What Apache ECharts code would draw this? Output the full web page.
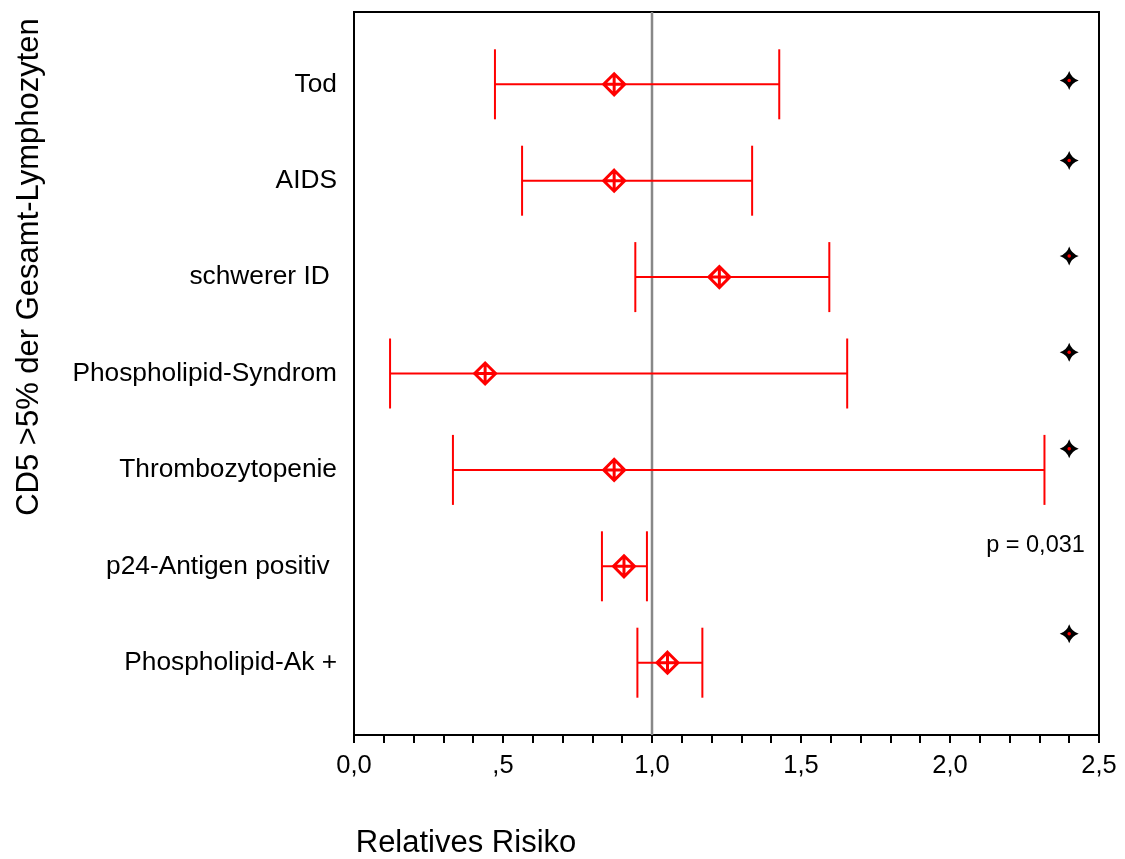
<!DOCTYPE html>
<html>
<head>
<meta charset="utf-8">
<script src="https://cdn.jsdelivr.net/npm/echarts@6/dist/echarts.min.js"></script>
<style>
html,body{margin:0;padding:0;background:#fff;}
#chart{width:1125px;height:859px;}
</style>
</head>
<body>
<div id="chart"></div>
<script>
// Categories from top to bottom
const categories = ['Tod','AIDS','schwerer ID ','Phospholipid-Syndrom','Thrombozytopenie','p24-Antigen positiv ','Phospholipid-Ak +'];
const relRisk = [0.873, 0.873, 1.226, 0.440, 0.873, 0.906, 1.052];
const lowerCI = [0.473, 0.564, 0.944, 0.121, 0.332, 0.832, 0.951];
const upperCI = [1.427, 1.336, 1.595, 1.655, 2.317, 0.983, 1.169];
const xTicks = [0, 0.5, 1.0, 1.5, 2.0, 2.5];
const referenceRR = 1.0;
// significance star markers (x, y in row units)
const starX = [2.40, 2.40, 2.40, 2.40, 2.40, 2.40];
const starY = [7.04, 6.21, 5.22, 4.22, 3.22, 1.30];
const pText = 'p = 0,031';
const pPos = [2.287, 2.22];

const n = categories.length;
const rowOf = i => n - i;

const font = 'Liberation Sans, Arial, Helvetica, sans-serif';
const chart = echarts.init(document.getElementById('chart'), null, {renderer:'canvas'});

const ciData = categories.map((c,i) => [lowerCI[i], upperCI[i], rowOf(i)]);
const pointData = categories.map((c,i) => [relRisk[i], rowOf(i)]);
const starData = starX.map((x,i) => [x, starY[i]]);

const diamond = 'path://M0,-10L10,0L0,10L-10,0Z M-10,0L10,0 M0,-10L0,10';
const star = 'path://M0,-10Q2.4,-2.4 10,0Q2.4,2.4 0,10Q-2.4,2.4 -10,0Q-2.4,-2.4 0,-10Z';

const fmt = v => {
  let s = v.toFixed(1).replace('.', ',');
  if (v > 0 && v < 1) s = s.substring(1);
  return s;
};

chart.setOption({
  animation:false,
  backgroundColor:'#fff',
  grid:{left:354, top:12, right:26, bottom:124, show:true, borderColor:'#000', borderWidth:2},
  xAxis:{
    type:'value', min:xTicks[0], max:xTicks[xTicks.length-1], interval:0.5,
    axisLine:{show:true, lineStyle:{color:'#000', width:2}},
    axisTick:{show:true, length:8, lineStyle:{color:'#000', width:2}},
    minorTick:{show:true, splitNumber:5, length:8, lineStyle:{color:'#000', width:2}},
    splitLine:{show:false},
    axisLabel:{formatter:fmt, fontSize:25.5, color:'#000', fontFamily:font, margin:18}
  },
  yAxis:{
    type:'value', min:0.25, max:n+0.75,
    axisLine:{show:true, lineStyle:{color:'#000', width:2}},
    axisTick:{show:false},
    splitLine:{show:false},
    axisLabel:{
      customValues:categories.map((c,i)=>rowOf(i)),
      formatter:v => categories[n - Math.round(v)],
      fontSize:26.3, color:'#000', fontFamily:font, margin:17
    }
  },
  graphic:[
    {type:'text', x:29, y:267, rotation:Math.PI/2,
     style:{text:'CD5 >5% der Gesamt-Lymphozyten', fontSize:31, fontFamily:font, fill:'#000', align:'center', verticalAlign:'middle'}},
    {type:'text', x:466, y:843,
     style:{text:'Relatives Risiko', fontSize:31, fontFamily:font, fill:'#000', align:'center', verticalAlign:'middle'}}
  ],
  series:[
    {
      type:'line', data:[[referenceRR,0.25],[referenceRR,n+0.75]], symbol:'none',
      lineStyle:{color:'#888', width:2.5}, z:1, silent:true
    },
    {
      type:'custom', z:2,
      renderItem:(params, api) => {
        const lo = api.coord([api.value(0), api.value(2)]);
        const hi = api.coord([api.value(1), api.value(2)]);
        const h = 35;
        const st = {stroke:'#ff0000', lineWidth:2};
        return {type:'group', children:[
          {type:'line', shape:{x1:lo[0], y1:lo[1], x2:hi[0], y2:hi[1]}, style:st},
          {type:'line', shape:{x1:lo[0], y1:lo[1]-h, x2:lo[0], y2:lo[1]+h}, style:st},
          {type:'line', shape:{x1:hi[0], y1:hi[1]-h, x2:hi[0], y2:hi[1]+h}, style:st}
        ]};
      },
      data:ciData
    },
    {
      type:'scatter', data:pointData, symbol:diamond, symbolSize:21, z:3,
      itemStyle:{color:'#fff', borderColor:'#ff0000', borderWidth:3, opacity:1}
    },
    {
      type:'scatter', data:starData, symbol:star, symbolSize:19, z:4,
      itemStyle:{color:'#000', opacity:1}
    },
    {
      type:'scatter', data:starData, symbol:'circle', symbolSize:3.5, z:5,
      itemStyle:{color:'#ff0000', opacity:1}
    },
    {
      type:'scatter', data:[pPos], symbol:'circle', symbolSize:0.1, z:5,
      itemStyle:{color:'#fff', opacity:1},
      label:{show:true, formatter:pText, position:'inside', fontSize:23.5, color:'#000', opacity:1,
             textBorderWidth:0, fontFamily:font}
    }
  ]
});
</script>
</body>
</html>
